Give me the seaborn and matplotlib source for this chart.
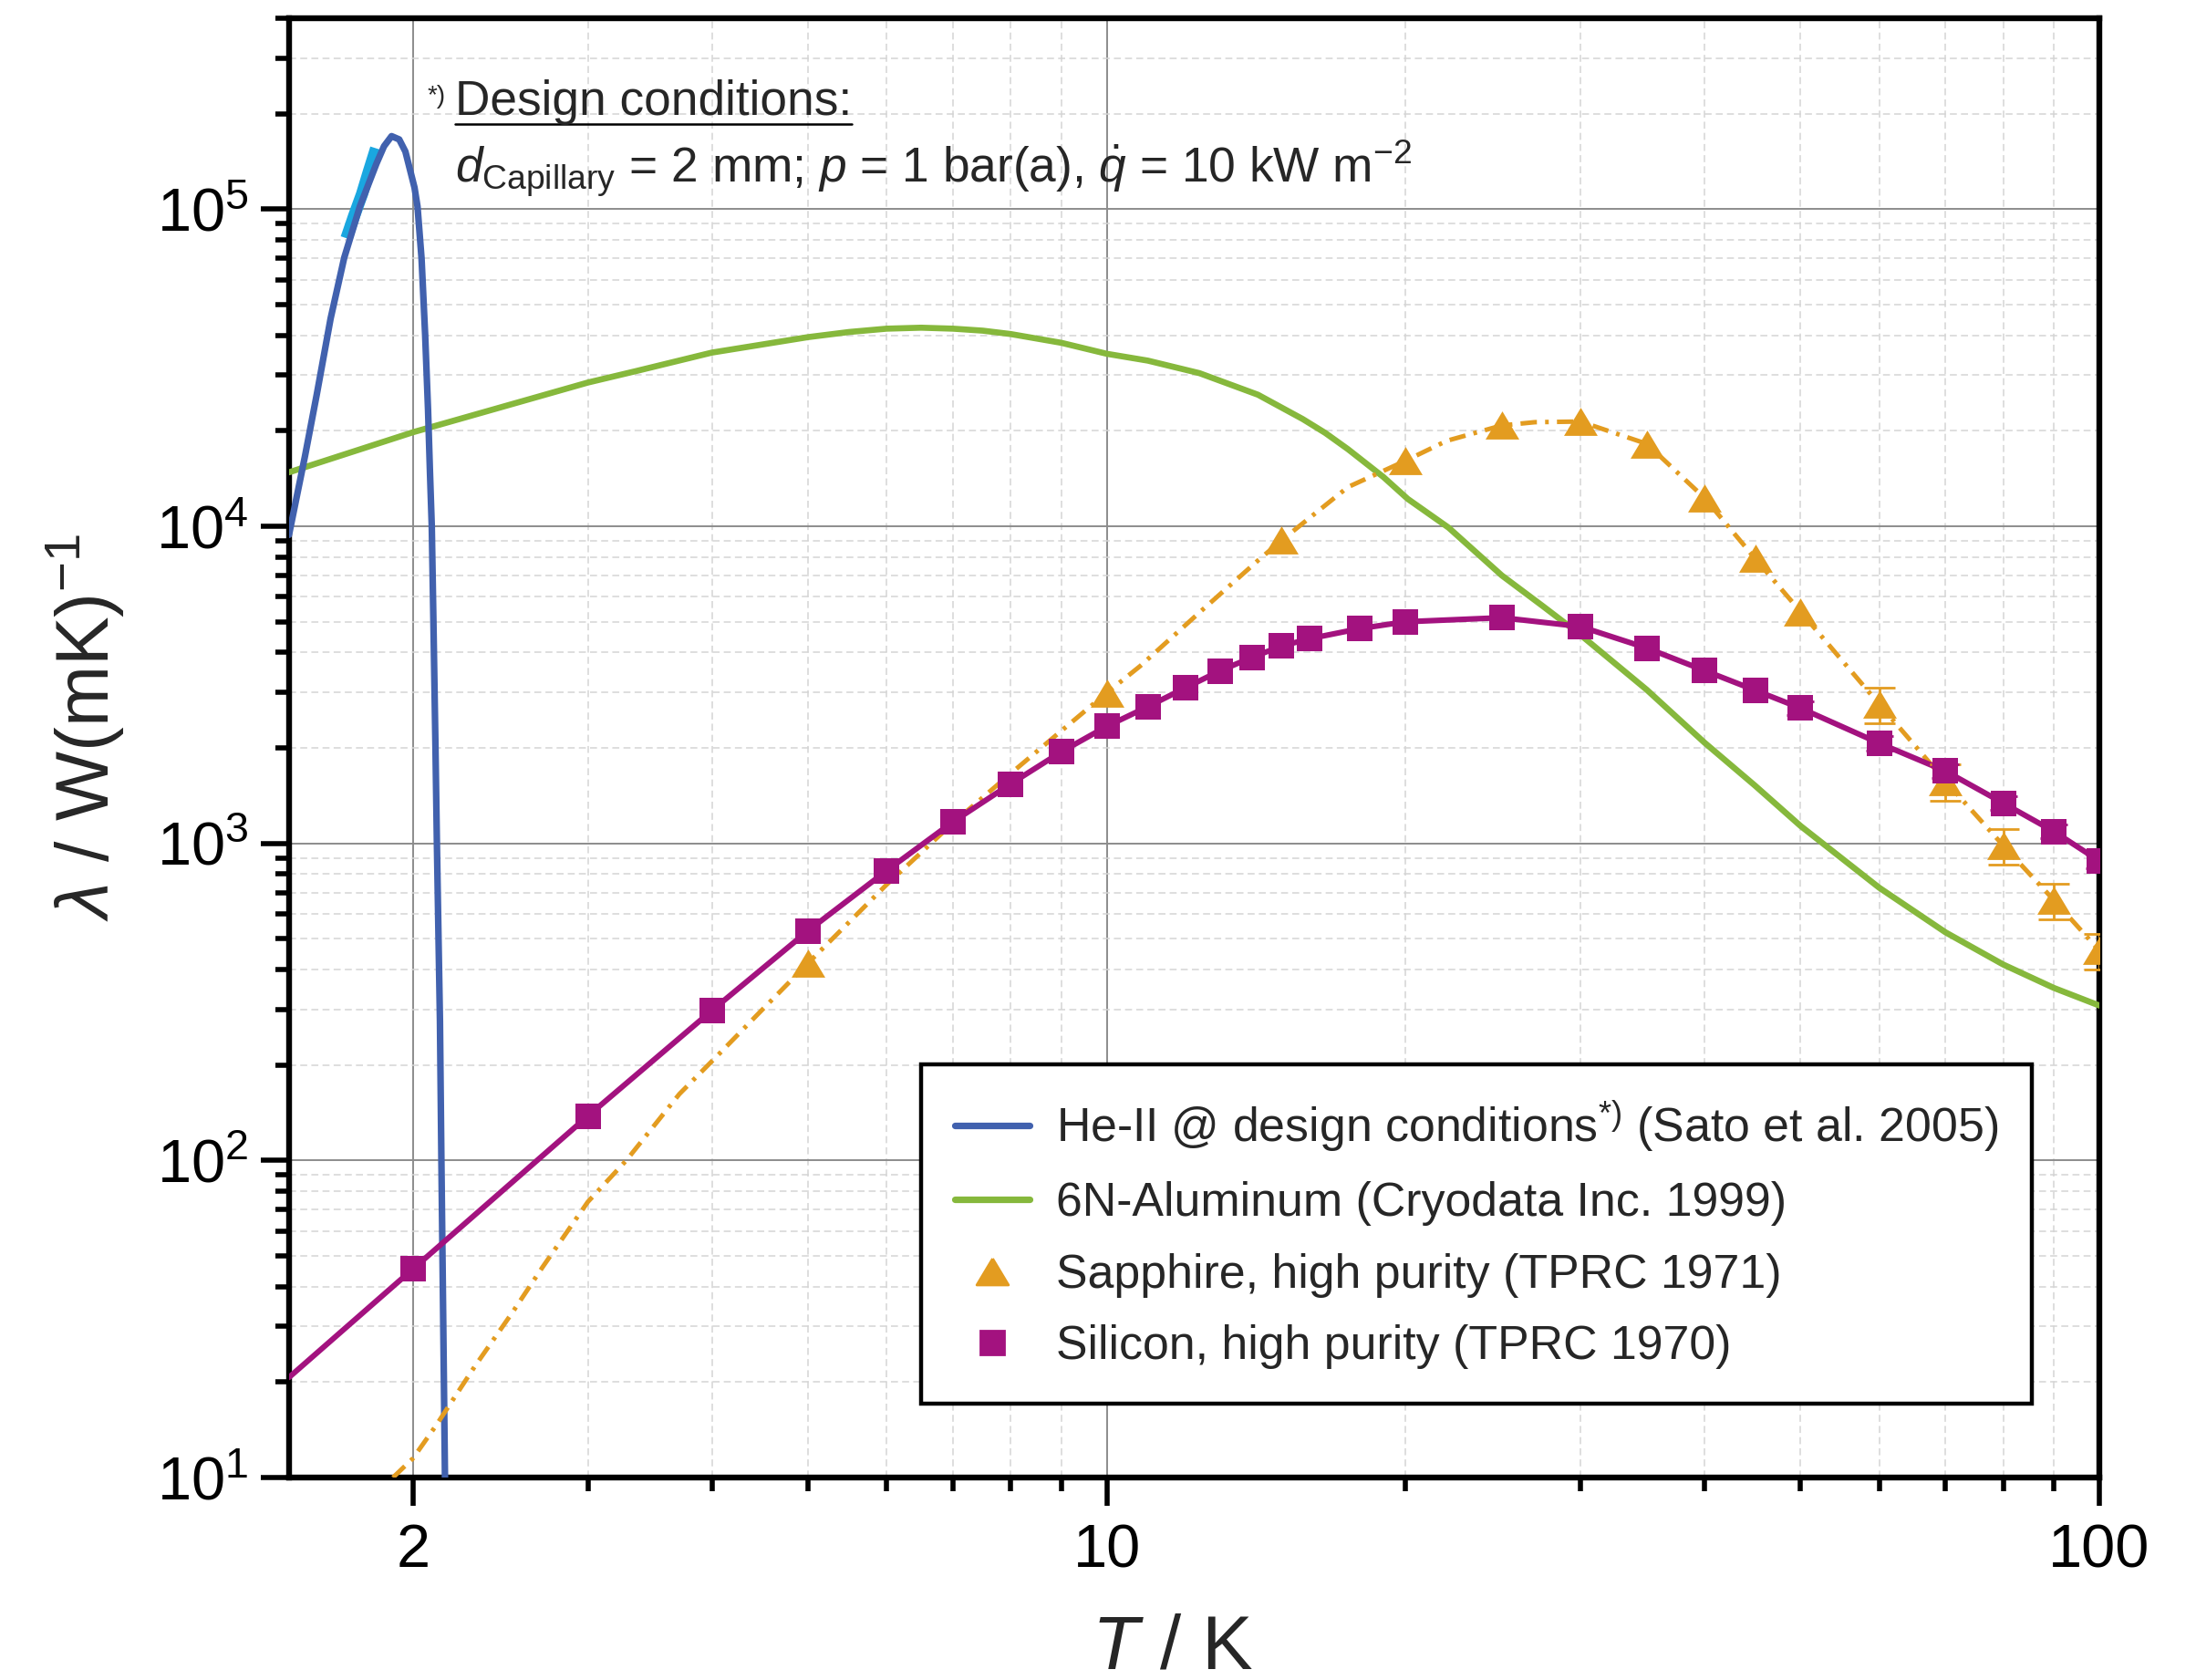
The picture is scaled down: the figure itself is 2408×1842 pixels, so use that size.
import numpy as np
import matplotlib
matplotlib.use("Agg")
import matplotlib.pyplot as plt
import seaborn as sns
from matplotlib.ticker import FixedLocator, FuncFormatter, LogLocator, NullFormatter
from matplotlib.lines import Line2D
from matplotlib.markers import MarkerStyle

sns.set_theme(style="white")
plt.rcParams["font.family"] = ["Liberation Sans", "DejaVu Sans"]
plt.rcParams["mathtext.fontset"] = "custom"
plt.rcParams["mathtext.rm"] = "Liberation Sans"
plt.rcParams["mathtext.it"] = "Liberation Sans:italic"
plt.rcParams["mathtext.bf"] = "Liberation Sans:bold"
plt.rcParams["mathtext.default"] = "regular"

# ---- data: thermal conductivity lambda [W/(m K)] vs temperature T [K] ----
# He-II, effective conductivity at design conditions (Sato et al. 2005)
he_T = [1.50, 1.557, 1.60, 1.652, 1.705, 1.768, 1.837, 1.87, 1.903, 1.937,
        1.965, 2.007, 2.021, 2.040, 2.057, 2.071, 2.080, 2.089, 2.097, 2.107,
        2.114, 2.122, 2.129, 2.136, 2.145, 2.154]
he_k = [9400, 16700, 26100, 45200, 70300, 1.02e5, 1.39e5, 1.58e5, 1.70e5, 1.66e5,
        1.52e5, 1.17e5, 1.02e5, 7.0e4, 4.04e4, 2.33e4, 1.5e4, 1.0e4, 5000, 2010,
        1000, 500, 276, 102, 32, 10]

# He-II, measured range
he_meas_T = [1.714, 1.744, 1.777, 1.806, 1.836]
he_meas_k = [8.1e4, 9.5e4, 1.117e5, 1.32e5, 1.556e5]

# 6N aluminum (Cryodata Inc. 1999)
al_T = [1.5, 2.0, 3.0, 3.36, 4.0, 5.0, 5.5, 6.0, 6.5, 7.0, 7.5, 8.0, 9.0,
        10.0, 11.0, 12.4, 14.2, 15.75, 16.6, 17.5, 19.0, 20.1, 22.1, 25.0,
        27.5, 30.0, 35.0, 40.0, 45.0, 50.0, 60.0, 70.0, 80.0, 90.0, 100.0]
al_k = [14800, 19800, 28400, 30900, 35300, 39500, 41000, 42000, 42300, 42000,
        41400, 40400, 37900, 35000, 33300, 30400, 26000, 21800, 19700, 17500,
        14300, 12200, 9900, 7000, 5600, 4550, 3050, 2080, 1520, 1135, 725, 524,
        415, 350, 308]

# sapphire, high purity (TPRC 1971): data points
sa_T = [5, 10, 15, 20, 25, 30, 35, 40, 45, 50, 60, 70, 80, 90, 100]
sa_k = [419, 2985, 9030, 16100, 20800, 21400, 18200, 12300, 7910, 5380,
        2750, 1570, 985, 662, 459]
sa_err_pct = [0, 0, 0, 0, 0, 0, 0, 0, 0, 0, 13, 13, 13, 13, 13]

# sapphire: fitted curve
sa_fit_T = [1.909, 2.0, 2.11, 2.31, 2.516, 2.70, 3.0, 3.28, 3.71, 4.04, 4.43,
            5.0, 6.0, 7.0, 8.0, 9.0, 10.0, 10.8, 12.4, 14.2, 15.0, 17.5, 20.0,
            22.0, 25.0, 27.0, 30.0, 35.0, 40.0, 45.0, 50.0, 60.0, 70.0, 80.0,
            90.0, 100.0]
sa_fit_k = [10, 11.5, 14.6, 22.5, 33, 46, 74, 100, 162, 212, 285,
            419, 741, 1160, 1660, 2265, 2985, 3620, 5350, 7800, 9030, 13300, 16100,
            18600, 20800, 21300, 21400, 18200, 12300, 7910, 5380, 2750, 1570, 985,
            662, 459]

# silicon, high purity (TPRC 1970)
si_T = [2, 3, 4, 5, 6, 7, 8, 9, 10, 11, 12, 13, 14, 15, 16, 18, 20, 25, 30,
        35, 40, 45, 50, 60, 70, 80, 90, 100]
si_k = [45.5, 138, 297, 530, 820, 1170, 1540, 1945, 2340, 2700, 3095, 3500,
        3860, 4190, 4420, 4760, 5000, 5150, 4830, 4130, 3510, 3040, 2670,
        2070, 1690, 1340, 1090, 880]
si_err_pct = [0] * 22 + [5, 5, 5, 5, 5, 5]
si_fit_T = [1.5] + si_T
si_fit_k = [20.7] + si_k

# ---- styling ----
c_he = "#4161AE"
c_he_meas = "#1AA7E0"
c_al = "#86B83C"
c_sa = "#E39C20"
c_si = "#A3127F"

tri = MarkerStyle([(0.0, 0.5), (-0.6, -0.5), (0.6, -0.5), (0.0, 0.5)])

fig = plt.figure(figsize=(12.04, 9.21), dpi=200)
ax = fig.add_axes([0.1316, 0.1205, 0.8244, 0.8686])
ax.set_xscale("log")
ax.set_yscale("log")

sns.lineplot(x=al_T, y=al_k, ax=ax, color=c_al, lw=2.4, sort=False,
             estimator=None, zorder=3)
sns.lineplot(x=he_meas_T, y=he_meas_k, ax=ax, color=c_he_meas, lw=4.8,
             sort=False, estimator=None, zorder=3.5, solid_capstyle="butt")
sns.lineplot(x=he_T, y=he_k, ax=ax, color=c_he, lw=2.6, sort=False,
             estimator=None, zorder=4)
sns.lineplot(x=sa_fit_T, y=sa_fit_k, ax=ax, color=c_sa, lw=1.8, sort=False,
             estimator=None, zorder=4, linestyle=(0, (3.6, 1.8, 0.8, 1.8)))
sns.lineplot(x=si_fit_T, y=si_fit_k, ax=ax, color=c_si, lw=2.2, sort=False,
             estimator=None, zorder=5)

sa_T_a = np.array(sa_T, float)
sa_k_a = np.array(sa_k, float)
sa_e = sa_k_a * np.array(sa_err_pct) / 100
msk = sa_e > 0
ax.errorbar(sa_T_a[msk], sa_k_a[msk], yerr=sa_e[msk], fmt="none", ecolor=c_sa,
            elinewidth=1.0, capsize=6, capthick=1.0, zorder=5.5)
sns.scatterplot(x=sa_T, y=sa_k, ax=ax, color=c_sa, marker=tri, s=13.3 ** 2,
                linewidth=0, zorder=6)

si_T_a = np.array(si_T, float)
si_k_a = np.array(si_k, float)
si_e = si_k_a * np.array(si_err_pct) / 100
msk = si_e > 0
ax.errorbar(si_T_a[msk], si_k_a[msk], yerr=si_e[msk], fmt="none", ecolor=c_si,
            elinewidth=1.0, capsize=5.5, capthick=1.0, zorder=6.5)
sns.scatterplot(x=si_T, y=si_k, ax=ax, color=c_si, marker="s", s=10 ** 2,
                linewidth=0, zorder=7)

ax.set_xlim(1.5, 100)
ax.set_ylim(10, 4e5)

# ---- axes, ticks, grid ----
ax.xaxis.set_major_locator(FixedLocator([2, 10, 100]))
ax.xaxis.set_major_formatter(FuncFormatter(lambda v, p: f"{v:g}"))
ax.xaxis.set_minor_locator(FixedLocator([3, 4, 5, 6, 7, 8, 9,
                                         20, 30, 40, 50, 60, 70, 80, 90]))
ax.xaxis.set_minor_formatter(NullFormatter())
ax.yaxis.set_major_locator(LogLocator(base=10, numticks=12))
ax.yaxis.set_major_formatter(
    FuncFormatter(lambda v, p: r"$10^{%d}$" % int(round(np.log10(v)))))
ax.yaxis.set_minor_locator(LogLocator(base=10, subs=np.arange(2, 10), numticks=12))
ax.yaxis.set_minor_formatter(NullFormatter())

ax.tick_params(which="major", direction="out", length=11, width=2.0,
               labelsize=24, colors="black", bottom=True, left=True,
               top=False, right=False)
ax.tick_params(axis="x", which="major", pad=7)
ax.tick_params(axis="y", which="major", pad=5)
ax.tick_params(which="minor", direction="out", length=5.5, width=2.0,
               colors="black", bottom=True, left=True, top=False, right=False)

ax.grid(which="major", color="#8c8c8c", lw=0.7, ls="-")
ax.grid(which="minor", color="#d4d4d4", lw=0.55, ls=(0, (5, 3)))
ax.set_axisbelow(True)
for sp in ax.spines.values():
    sp.set_linewidth(2.3)
    sp.set_color("black")

ax.set_xlabel(r"$\mathit{T}$ / K", fontsize=30, labelpad=13)
ax.set_ylabel(r"$\mathit{\lambda}$ / W(mK)$^{-1}$", fontsize=29, labelpad=12)
ax.xaxis.label.set_x(0.488)
ax.yaxis.label.set_y(0.514)

# ---- legend ----
handles = [
    Line2D([], [], color=c_he, lw=2.6),
    Line2D([], [], color=c_al, lw=2.6),
    Line2D([], [], color=c_sa, marker=tri, ls="none", markersize=12.5),
    Line2D([], [], color=c_si, marker="s", ls="none", markersize=9.5),
]
labels = [
    r"He-II @ design conditions$^{*)}$ (Sato et al. 2005)",
    "6N-Aluminum (Cryodata Inc. 1999)",
    "Sapphire, high purity (TPRC 1971)",
    "Silicon, high purity (TPRC 1970)",
]
leg = ax.legend(handles, labels, loc="lower left", bbox_to_anchor=(0.349, 0.0508),
                fontsize=18.7, frameon=True, fancybox=False, edgecolor="black",
                framealpha=1, borderpad=0.72, labelspacing=0.57,
                handlelength=1.57, handletextpad=0.56, borderaxespad=0)
leg.get_frame().set_linewidth(1.6)
leg.set_zorder(10)

# ---- design-condition note ----
note_y1 = 1 - 126 / 1842
note_y2 = 1 - 200 / 1842
note = fig.text(0.2072, note_y1, "Design conditions:", fontsize=19.2,
                va="baseline", ha="left")
fig.text(0.1944, 1 - 113 / 1842, "*)", fontsize=10, va="baseline", ha="left")
fig.text(0.2072, note_y2,
         r"$\mathit{d}_{\mathrm{Capillary}}$ = 2 mm; $\mathit{p}$ = 1 bar(a), "
         r"$\dot{\mathit{q}}$ = 10 kW m$^{-2}$",
         fontsize=19.2, va="baseline", ha="left")

fig.canvas.draw()
bb = note.get_window_extent(fig.canvas.get_renderer())
W, H = fig.bbox.width, fig.bbox.height
y_ul = (note_y1 * H - 10) / H
fig.add_artist(Line2D([bb.x0 / W, bb.x1 / W], [y_ul, y_ul],
                      transform=fig.transFigure, color="black", lw=0.9))

fig.savefig("out.png", dpi=200)
